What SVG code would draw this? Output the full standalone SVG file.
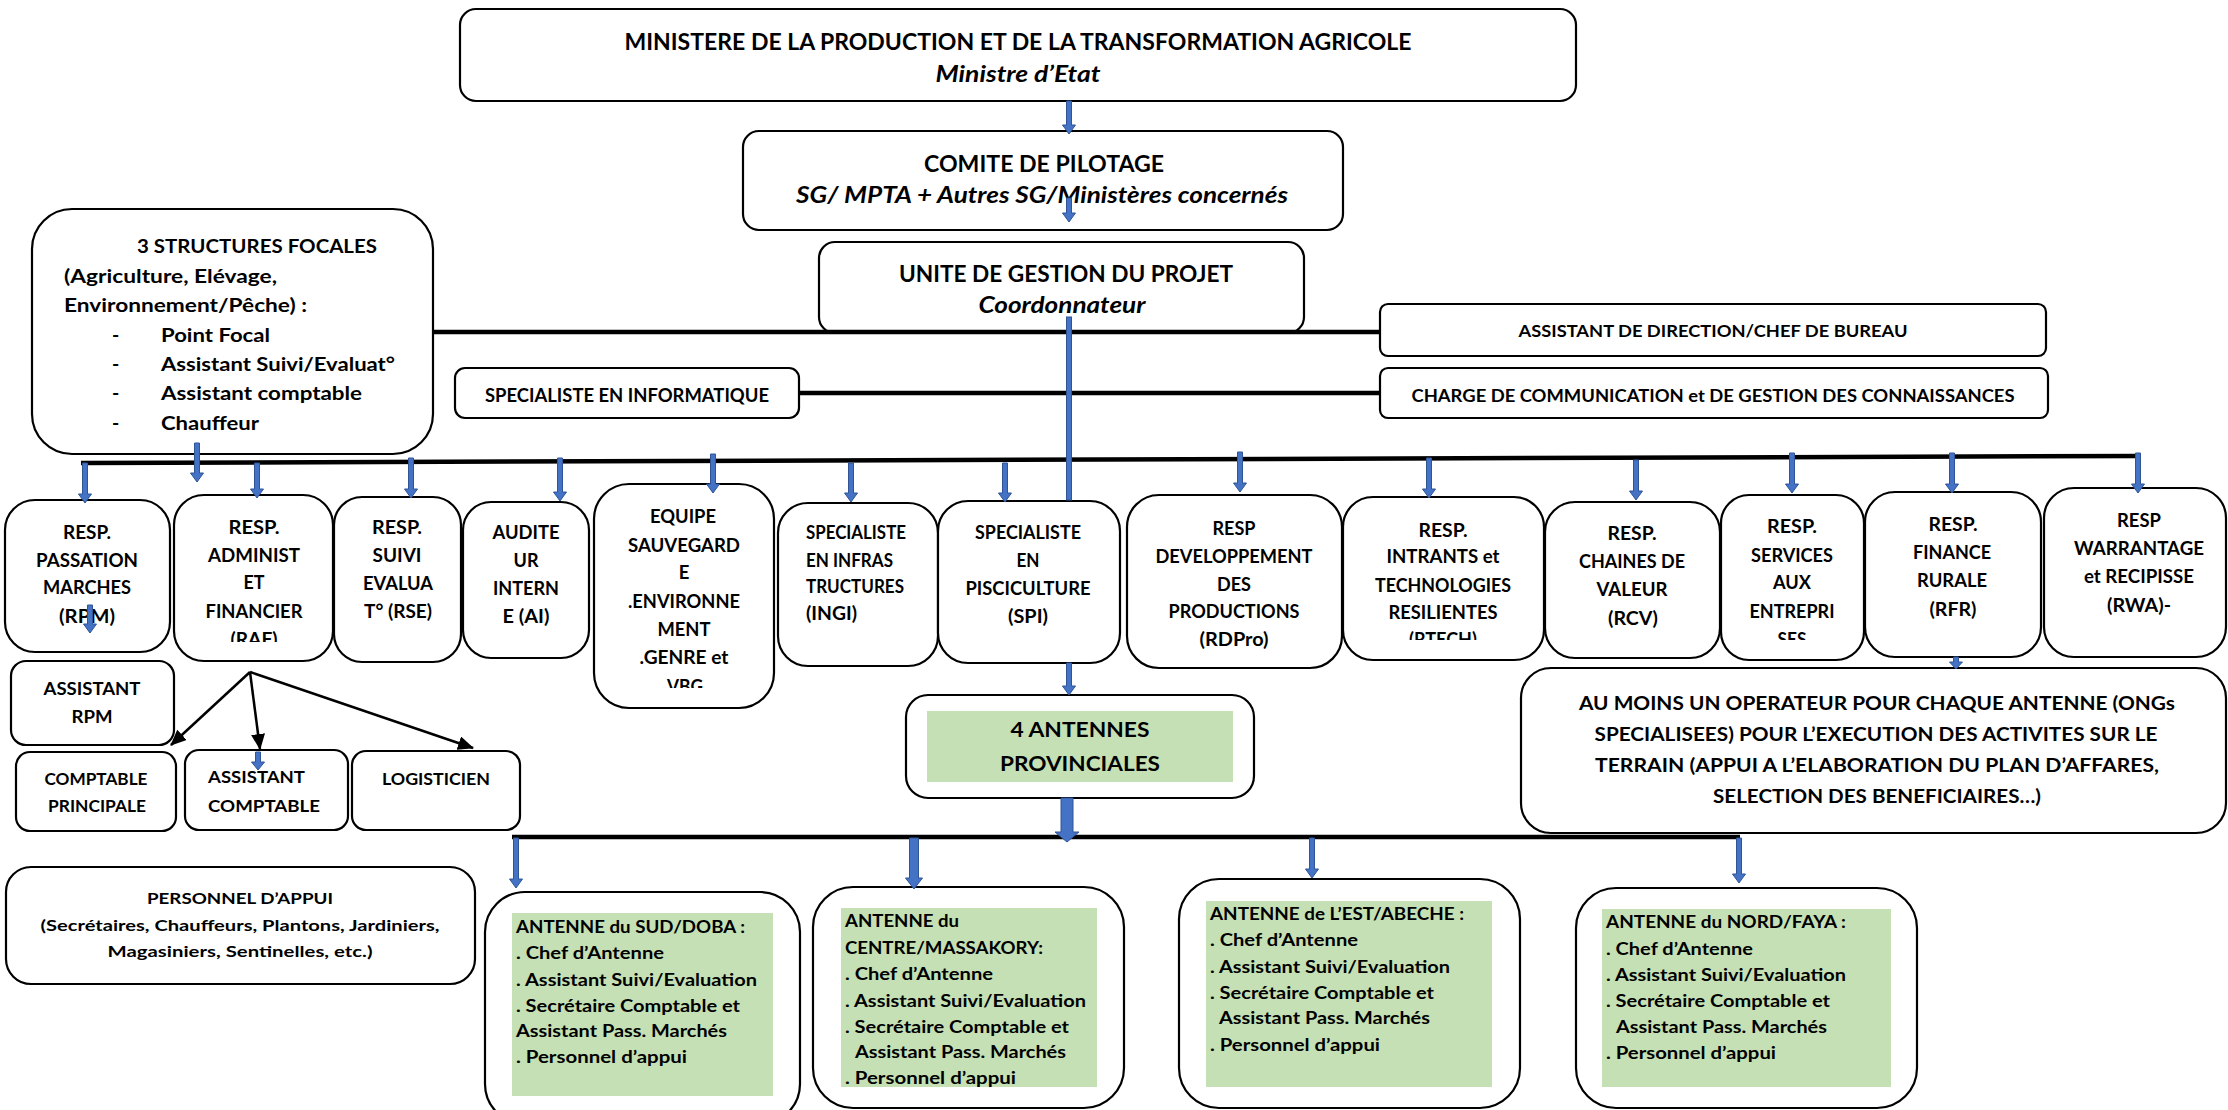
<svg xmlns="http://www.w3.org/2000/svg" width="2228" height="1110" viewBox="0 0 2228 1110">
<style>
.bx{fill:#fff;stroke:#000;stroke-width:2.2}
.gr{fill:#C5E0B4}
.t{font-family:Lato,"Liberation Sans",sans-serif;font-weight:bold;fill:#000}
.m{text-anchor:middle}
.i{font-style:italic}
.f22{font-size:22px}.f21{font-size:21px}.f195{font-size:19.5px}.f185{font-size:18.5px}.f17{font-size:17px}.f165{font-size:16.5px}.f16{font-size:16px}.f175{font-size:17.5px}
.ln{stroke:#000;stroke-width:4.5;fill:none}
.bl{fill:#4472C4;stroke:#2F5597;stroke-width:1}
.ka{stroke:#000;stroke-width:2.5;fill:none;marker-end:url(#ah)}
</style>
<defs>
<marker id="ah" viewBox="0 0 16 14" refX="15" refY="7" markerWidth="16" markerHeight="14" markerUnits="userSpaceOnUse" orient="auto"><path d="M0,0 L16,7 L0,14 z" fill="#000"/></marker>
<clipPath id="cRAF"><rect x="174" y="495" width="159" height="147"/></clipPath>
<clipPath id="cEQ"><rect x="594" y="484" width="180" height="204"/></clipPath>
<clipPath id="cRT"><rect x="1343" y="497" width="201" height="143"/></clipPath>
<clipPath id="cSE"><rect x="1721" y="495" width="143" height="145"/></clipPath>
</defs>

<g id="ministere">
<rect class="bx" x="460" y="9" width="1116" height="92" rx="16"/>
<text class="t m f22" x="1018" y="50" textLength="787" lengthAdjust="spacingAndGlyphs">MINISTERE DE LA PRODUCTION ET DE LA TRANSFORMATION AGRICOLE</text>
<text class="t m i f22" x="1018" y="82" textLength="165" lengthAdjust="spacingAndGlyphs">Ministre d’Etat</text>
</g>

<g id="comite">
<rect class="bx" x="743" y="131" width="600" height="99" rx="16"/>
<text class="t m f22" x="1044" y="172" textLength="240" lengthAdjust="spacingAndGlyphs">COMITE DE PILOTAGE</text>
<text class="t m i f22" x="1042" y="203" textLength="492" lengthAdjust="spacingAndGlyphs">SG/ MPTA + Autres SG/Ministères concernés</text>
</g>

<g id="ugp">
<rect class="bx" x="819" y="242" width="485" height="91" rx="16"/>
<text class="t m f22" x="1066" y="282" textLength="334" lengthAdjust="spacingAndGlyphs">UNITE DE GESTION DU PROJET</text>
<text class="t m i f22" x="1062" y="313" textLength="167" lengthAdjust="spacingAndGlyphs">Coordonnateur</text>
</g>

<g id="structures-focales">
<rect class="bx" x="32" y="209" width="401" height="245" rx="40"/>
<text class="t f195" x="137" y="253" textLength="240" lengthAdjust="spacingAndGlyphs">3 STRUCTURES FOCALES</text>
<text class="t f195" x="64" y="283" textLength="213" lengthAdjust="spacingAndGlyphs">(Agriculture, Elévage,</text>
<text class="t f195" x="64" y="312" textLength="243" lengthAdjust="spacingAndGlyphs">Environnement/Pêche) :</text>
<text class="t f195" x="112" y="342">-</text>
<text class="t f195" x="161" y="342" textLength="109" lengthAdjust="spacingAndGlyphs">Point Focal</text>
<text class="t f195" x="112" y="371">-</text>
<text class="t f195" x="161" y="371" textLength="234" lengthAdjust="spacingAndGlyphs">Assistant Suivi/Evaluat°</text>
<text class="t f195" x="112" y="400">-</text>
<text class="t f195" x="161" y="400" textLength="201" lengthAdjust="spacingAndGlyphs">Assistant comptable</text>
<text class="t f195" x="112" y="430">-</text>
<text class="t f195" x="161" y="430" textLength="98" lengthAdjust="spacingAndGlyphs">Chauffeur</text>
</g>

<g id="specialiste-informatique">
<rect class="bx" x="455" y="368" width="344" height="50" rx="10"/>
<text class="t m f185" x="627" y="402" textLength="284" lengthAdjust="spacingAndGlyphs">SPECIALISTE EN INFORMATIQUE</text>
</g>

<g id="assistant-direction">
<rect class="bx" x="1380" y="304" width="666" height="52" rx="8"/>
<text class="t m f17" x="1713" y="337" textLength="389" lengthAdjust="spacingAndGlyphs">ASSISTANT DE DIRECTION/CHEF DE BUREAU</text>
</g>

<g id="charge-communication">
<rect class="bx" x="1380" y="368" width="668" height="50" rx="8"/>
<text class="t m f165" x="1713" y="402" textLength="603" lengthAdjust="spacingAndGlyphs">CHARGE DE COMMUNICATION et DE GESTION DES CONNAISSANCES</text>
</g>

<g id="rpm">
<rect class="bx" x="5" y="500" width="165" height="152" rx="30"/>
<text class="t m f185" x="87" y="539" textLength="48" lengthAdjust="spacingAndGlyphs">RESP.</text>
<text class="t m f185" x="87" y="567" textLength="102" lengthAdjust="spacingAndGlyphs">PASSATION</text>
<text class="t m f185" x="87" y="594" textLength="88" lengthAdjust="spacingAndGlyphs">MARCHES</text>
<text class="t m f185" x="87" y="623" textLength="56" lengthAdjust="spacingAndGlyphs">(RPM)</text>
</g>

<g id="raf">
<rect class="bx" x="174" y="495" width="159" height="166" rx="30"/>
<g clip-path="url(#cRAF)">
<text class="t m f185" x="254" y="534" textLength="51" lengthAdjust="spacingAndGlyphs">RESP.</text>
<text class="t m f185" x="254" y="562" textLength="92" lengthAdjust="spacingAndGlyphs">ADMINIST</text>
<text class="t m f185" x="254" y="589" textLength="21" lengthAdjust="spacingAndGlyphs">ET</text>
<text class="t m f185" x="254" y="618" textLength="97" lengthAdjust="spacingAndGlyphs">FINANCIER</text>
<text class="t m f185" x="254" y="646" textLength="47" lengthAdjust="spacingAndGlyphs">(RAF)</text>
</g>
</g>

<g id="rse">
<rect class="bx" x="334" y="497" width="127" height="165" rx="28"/>
<text class="t m f185" x="397" y="534" textLength="50" lengthAdjust="spacingAndGlyphs">RESP.</text>
<text class="t m f185" x="397" y="562" textLength="49" lengthAdjust="spacingAndGlyphs">SUIVI</text>
<text class="t m f185" x="398" y="590" textLength="70" lengthAdjust="spacingAndGlyphs">EVALUA</text>
<text class="t m f185" x="398" y="618" textLength="68" lengthAdjust="spacingAndGlyphs">T° (RSE)</text>
</g>

<g id="ai">
<rect class="bx" x="463" y="502" width="126" height="156" rx="28"/>
<text class="t m f185" x="526" y="539" textLength="67" lengthAdjust="spacingAndGlyphs">AUDITE</text>
<text class="t m f185" x="526" y="567" textLength="25" lengthAdjust="spacingAndGlyphs">UR</text>
<text class="t m f185" x="526" y="595" textLength="66" lengthAdjust="spacingAndGlyphs">INTERN</text>
<text class="t m f185" x="526" y="623" textLength="47" lengthAdjust="spacingAndGlyphs">E (AI)</text>
</g>

<g id="equipe-sauvegarde">
<rect class="bx" x="594" y="484" width="180" height="224" rx="35"/>
<g clip-path="url(#cEQ)">
<text class="t m f185" x="683" y="523" textLength="66" lengthAdjust="spacingAndGlyphs">EQUIPE</text>
<text class="t m f185" x="684" y="552" textLength="112" lengthAdjust="spacingAndGlyphs">SAUVEGARD</text>
<text class="t m f185" x="684" y="579">E</text>
<text class="t m f185" x="684" y="608" textLength="112" lengthAdjust="spacingAndGlyphs">.ENVIRONNE</text>
<text class="t m f185" x="684" y="636" textLength="53" lengthAdjust="spacingAndGlyphs">MENT</text>
<text class="t m f185" x="684" y="664" textLength="89" lengthAdjust="spacingAndGlyphs">.GENRE et</text>
<text class="t m f185" x="685" y="693" textLength="36" lengthAdjust="spacingAndGlyphs">VBG</text>
</g>
</g>

<g id="ingi">
<rect class="bx" x="778" y="503" width="160" height="163" rx="30"/>
<text class="t f185" x="806" y="539" textLength="100" lengthAdjust="spacingAndGlyphs">SPECIALISTE</text>
<text class="t f185" x="806" y="567" textLength="87" lengthAdjust="spacingAndGlyphs">EN INFRAS</text>
<text class="t f185" x="806" y="593" textLength="98" lengthAdjust="spacingAndGlyphs">TRUCTURES</text>
<text class="t f185" x="806" y="620" textLength="51" lengthAdjust="spacingAndGlyphs">(INGI)</text>
</g>

<g id="spi">
<rect class="bx" x="938" y="501" width="182" height="162" rx="30"/>
<text class="t m f185" x="1028" y="539" textLength="106" lengthAdjust="spacingAndGlyphs">SPECIALISTE</text>
<text class="t m f185" x="1028" y="567" textLength="23" lengthAdjust="spacingAndGlyphs">EN</text>
<text class="t m f185" x="1028" y="595" textLength="125" lengthAdjust="spacingAndGlyphs">PISCICULTURE</text>
<text class="t m f185" x="1028" y="623" textLength="40" lengthAdjust="spacingAndGlyphs">(SPI)</text>
</g>

<g id="rdpro">
<rect class="bx" x="1127" y="495" width="215" height="173" rx="32"/>
<text class="t m f185" x="1234" y="535" textLength="43" lengthAdjust="spacingAndGlyphs">RESP</text>
<text class="t m f185" x="1234" y="563" textLength="157" lengthAdjust="spacingAndGlyphs">DEVELOPPEMENT</text>
<text class="t m f185" x="1234" y="591" textLength="34" lengthAdjust="spacingAndGlyphs">DES</text>
<text class="t m f185" x="1234" y="618" textLength="131" lengthAdjust="spacingAndGlyphs">PRODUCTIONS</text>
<text class="t m f185" x="1234" y="646" textLength="69" lengthAdjust="spacingAndGlyphs">(RDPro)</text>
</g>

<g id="rtech">
<rect class="bx" x="1343" y="497" width="201" height="163" rx="30"/>
<g clip-path="url(#cRT)">
<text class="t m f185" x="1443" y="537" textLength="49" lengthAdjust="spacingAndGlyphs">RESP.</text>
<text class="t m f185" x="1443" y="563" textLength="113" lengthAdjust="spacingAndGlyphs">INTRANTS et</text>
<text class="t m f185" x="1443" y="592" textLength="136" lengthAdjust="spacingAndGlyphs">TECHNOLOGIES</text>
<text class="t m f185" x="1443" y="619" textLength="109" lengthAdjust="spacingAndGlyphs">RESILIENTES</text>
<text class="t m f185" x="1443" y="646" textLength="68" lengthAdjust="spacingAndGlyphs">(RTECH)</text>
</g>
</g>

<g id="rcv">
<rect class="bx" x="1545" y="502" width="175" height="156" rx="30"/>
<text class="t m f185" x="1632" y="540" textLength="49" lengthAdjust="spacingAndGlyphs">RESP.</text>
<text class="t m f185" x="1632" y="568" textLength="106" lengthAdjust="spacingAndGlyphs">CHAINES DE</text>
<text class="t m f185" x="1632" y="596" textLength="71" lengthAdjust="spacingAndGlyphs">VALEUR</text>
<text class="t m f185" x="1633" y="625" textLength="50" lengthAdjust="spacingAndGlyphs">(RCV)</text>
</g>

<g id="services-entreprises">
<rect class="bx" x="1721" y="495" width="143" height="165" rx="28"/>
<g clip-path="url(#cSE)">
<text class="t m f185" x="1792" y="533" textLength="50" lengthAdjust="spacingAndGlyphs">RESP.</text>
<text class="t m f185" x="1792" y="562" textLength="82" lengthAdjust="spacingAndGlyphs">SERVICES</text>
<text class="t m f185" x="1792" y="589" textLength="38" lengthAdjust="spacingAndGlyphs">AUX</text>
<text class="t m f185" x="1792" y="618" textLength="85" lengthAdjust="spacingAndGlyphs">ENTREPRI</text>
<text class="t m f185" x="1792" y="646" textLength="29" lengthAdjust="spacingAndGlyphs">SES</text>
</g>
</g>

<g id="rfr">
<rect class="bx" x="1865" y="492" width="176" height="165" rx="30"/>
<text class="t m f185" x="1953" y="531" textLength="49" lengthAdjust="spacingAndGlyphs">RESP.</text>
<text class="t m f185" x="1952" y="559" textLength="78" lengthAdjust="spacingAndGlyphs">FINANCE</text>
<text class="t m f185" x="1952" y="587" textLength="70" lengthAdjust="spacingAndGlyphs">RURALE</text>
<text class="t m f185" x="1953" y="616" textLength="47" lengthAdjust="spacingAndGlyphs">(RFR)</text>
</g>

<g id="rwa">
<rect class="bx" x="2044" y="488" width="182" height="169" rx="30"/>
<text class="t m f185" x="2139" y="527" textLength="44" lengthAdjust="spacingAndGlyphs">RESP</text>
<text class="t m f185" x="2139" y="555" textLength="130" lengthAdjust="spacingAndGlyphs">WARRANTAGE</text>
<text class="t m f185" x="2139" y="583" textLength="110" lengthAdjust="spacingAndGlyphs">et RECIPISSE</text>
<text class="t m f185" x="2139" y="612" textLength="64" lengthAdjust="spacingAndGlyphs">(RWA)-</text>
</g>

<g id="operateurs">
<rect class="bx" x="1521" y="668" width="705" height="165" rx="30"/>
<text class="t m f185" x="1877" y="710" textLength="596" lengthAdjust="spacingAndGlyphs">AU MOINS UN OPERATEUR POUR CHAQUE ANTENNE (ONGs</text>
<text class="t m f185" x="1876" y="741" textLength="563" lengthAdjust="spacingAndGlyphs">SPECIALISEES) POUR L’EXECUTION DES ACTIVITES SUR LE</text>
<text class="t m f185" x="1877" y="772" textLength="564" lengthAdjust="spacingAndGlyphs">TERRAIN (APPUI A L’ELABORATION DU PLAN D’AFFARES,</text>
<text class="t m f185" x="1877" y="803" textLength="328" lengthAdjust="spacingAndGlyphs">SELECTION DES BENEFICIAIRES…)</text>
</g>

<g id="assistant-rpm">
<rect class="bx" x="11" y="661" width="163" height="84" rx="15"/>
<text class="t m f165" x="92" y="695" textLength="97" lengthAdjust="spacingAndGlyphs">ASSISTANT</text>
<text class="t m f165" x="92" y="723" textLength="41" lengthAdjust="spacingAndGlyphs">RPM</text>
</g>

<g id="comptable-principale">
<rect class="bx" x="16" y="752" width="160" height="79" rx="14"/>
<text class="t m f175" x="96" y="785" textLength="103" lengthAdjust="spacingAndGlyphs">COMPTABLE</text>
<text class="t m f175" x="97" y="812" textLength="98" lengthAdjust="spacingAndGlyphs">PRINCIPALE</text>
</g>

<g id="assistant-comptable">
<rect class="bx" x="185" y="750" width="163" height="80" rx="14"/>
<text class="t f175" x="208" y="783" textLength="97" lengthAdjust="spacingAndGlyphs">ASSISTANT</text>
<text class="t f175" x="208" y="812" textLength="112" lengthAdjust="spacingAndGlyphs">COMPTABLE</text>
</g>

<g id="logisticien">
<rect class="bx" x="352" y="751" width="168" height="79" rx="14"/>
<text class="t m f175" x="436" y="785" textLength="108" lengthAdjust="spacingAndGlyphs">LOGISTICIEN</text>
</g>

<g id="personnel-appui">
<rect class="bx" x="6" y="867" width="469" height="117" rx="25"/>
<text class="t m f16" x="240" y="904" textLength="186" lengthAdjust="spacingAndGlyphs">PERSONNEL D’APPUI</text>
<text class="t m f16" x="240" y="931" textLength="399" lengthAdjust="spacingAndGlyphs">(Secrétaires, Chauffeurs, Plantons, Jardiniers,</text>
<text class="t m f16" x="240" y="957" textLength="265" lengthAdjust="spacingAndGlyphs">Magasiniers, Sentinelles, etc.)</text>
</g>

<g id="antennes-provinciales">
<rect class="bx" x="906" y="695" width="348" height="103" rx="22"/>
<rect class="gr" x="927" y="711" width="306" height="71"/>
<text class="t m f21" x="1080" y="737" textLength="139" lengthAdjust="spacingAndGlyphs">4 ANTENNES</text>
<text class="t m f21" x="1080" y="771" textLength="160" lengthAdjust="spacingAndGlyphs">PROVINCIALES</text>
</g>

<g id="antenne-sud">
<rect class="bx" x="485" y="892" width="315" height="232" rx="40"/>
<rect class="gr" x="512" y="913" width="261" height="183"/>
<text class="t f165" x="516" y="933" textLength="229" lengthAdjust="spacingAndGlyphs">ANTENNE du SUD/DOBA :</text>
<text class="t f165" x="516" y="959" textLength="148" lengthAdjust="spacingAndGlyphs">. Chef d’Antenne</text>
<text class="t f165" x="516" y="986" textLength="241" lengthAdjust="spacingAndGlyphs">. Assistant Suivi/Evaluation</text>
<text class="t f165" x="516" y="1012" textLength="224" lengthAdjust="spacingAndGlyphs">. Secrétaire Comptable et</text>
<text class="t f165" x="516" y="1037" textLength="211" lengthAdjust="spacingAndGlyphs">Assistant Pass. Marchés</text>
<text class="t f165" x="516" y="1063" textLength="171" lengthAdjust="spacingAndGlyphs">. Personnel d’appui</text>
</g>

<g id="antenne-centre">
<rect class="bx" x="813" y="887" width="311" height="221" rx="40"/>
<rect class="gr" x="841" y="908" width="256" height="179"/>
<text class="t f165" x="845" y="927" textLength="114" lengthAdjust="spacingAndGlyphs">ANTENNE du</text>
<text class="t f165" x="845" y="954" textLength="198" lengthAdjust="spacingAndGlyphs">CENTRE/MASSAKORY:</text>
<text class="t f165" x="845" y="980" textLength="148" lengthAdjust="spacingAndGlyphs">. Chef d’Antenne</text>
<text class="t f165" x="845" y="1007" textLength="241" lengthAdjust="spacingAndGlyphs">. Assistant Suivi/Evaluation</text>
<text class="t f165" x="845" y="1033" textLength="224" lengthAdjust="spacingAndGlyphs">. Secrétaire Comptable et</text>
<text class="t f165" x="855" y="1058" textLength="211" lengthAdjust="spacingAndGlyphs">Assistant Pass. Marchés</text>
<text class="t f165" x="845" y="1084" textLength="171" lengthAdjust="spacingAndGlyphs">. Personnel d’appui</text>
</g>

<g id="antenne-est">
<rect class="bx" x="1179" y="879" width="341" height="229" rx="40"/>
<rect class="gr" x="1206" y="901" width="286" height="186"/>
<text class="t f165" x="1210" y="920" textLength="254" lengthAdjust="spacingAndGlyphs">ANTENNE de L’EST/ABECHE :</text>
<text class="t f165" x="1210" y="946" textLength="148" lengthAdjust="spacingAndGlyphs">. Chef d’Antenne</text>
<text class="t f165" x="1210" y="973" textLength="240" lengthAdjust="spacingAndGlyphs">. Assistant Suivi/Evaluation</text>
<text class="t f165" x="1210" y="999" textLength="224" lengthAdjust="spacingAndGlyphs">. Secrétaire Comptable et</text>
<text class="t f165" x="1219" y="1024" textLength="211" lengthAdjust="spacingAndGlyphs">Assistant Pass. Marchés</text>
<text class="t f165" x="1210" y="1051" textLength="170" lengthAdjust="spacingAndGlyphs">. Personnel d’appui</text>
</g>

<g id="antenne-nord">
<rect class="bx" x="1576" y="888" width="341" height="220" rx="40"/>
<rect class="gr" x="1602" y="909" width="289" height="178"/>
<text class="t f165" x="1606" y="928" textLength="240" lengthAdjust="spacingAndGlyphs">ANTENNE du NORD/FAYA :</text>
<text class="t f165" x="1606" y="955" textLength="147" lengthAdjust="spacingAndGlyphs">. Chef d’Antenne</text>
<text class="t f165" x="1606" y="981" textLength="240" lengthAdjust="spacingAndGlyphs">. Assistant Suivi/Evaluation</text>
<text class="t f165" x="1606" y="1007" textLength="224" lengthAdjust="spacingAndGlyphs">. Secrétaire Comptable et</text>
<text class="t f165" x="1616" y="1033" textLength="211" lengthAdjust="spacingAndGlyphs">Assistant Pass. Marchés</text>
<text class="t f165" x="1606" y="1059" textLength="170" lengthAdjust="spacingAndGlyphs">. Personnel d’appui</text>
</g>

<g id="connectors">
<line class="ln" x1="433" y1="332" x2="1380" y2="332"/>
<line class="ln" x1="799" y1="393" x2="1380" y2="393"/>
<line class="ln" x1="81" y1="463" x2="2140" y2="456"/>
<line class="ln" x1="512" y1="837" x2="1740" y2="837"/>
<line class="ka" x1="250" y1="672" x2="171" y2="745"/>
<line class="ka" x1="250" y1="672" x2="260" y2="749"/>
<line class="ka" x1="250" y1="672" x2="473" y2="748"/>
<rect class="bl" x="1066.5" y="317" width="5" height="183"/>
<polygon class="bl" points="1066.5,101 1071.5,101 1071.5,125 1075.5,125 1069,134 1062.5,125 1066.5,125"/>
<polygon class="bl" points="1066.5,198 1071.5,198 1071.5,213 1075.5,213 1069,222 1062.5,213 1066.5,213"/>
<polygon class="bl" points="1066.5,663 1071.5,663 1071.5,686 1075.5,686 1069,695 1062.5,686 1066.5,686"/>
<polygon class="bl" points="194.5,443 199.5,443 199.5,473 203.5,473 197,482 190.5,473 194.5,473"/>
<polygon class="bl" points="82.5,463 87.5,463 87.5,494 91.5,494 85,503 78.5,494 82.5,494"/>
<polygon class="bl" points="254.5,463 259.5,463 259.5,489 263.5,489 257,498 250.5,489 254.5,489"/>
<polygon class="bl" points="408.5,458 413.5,458 413.5,489 417.5,489 411,498 404.5,489 408.5,489"/>
<polygon class="bl" points="557.5,458 562.5,458 562.5,492 566.5,492 560,501 553.5,492 557.5,492"/>
<polygon class="bl" points="710.5,454 715.5,454 715.5,484 719.5,484 713,493 706.5,484 710.5,484"/>
<polygon class="bl" points="848.5,463 853.5,463 853.5,493 857.5,493 851,502 844.5,493 848.5,493"/>
<polygon class="bl" points="1002.5,463 1007.5,463 1007.5,493 1011.5,493 1005,502 998.5,493 1002.5,493"/>
<polygon class="bl" points="1237.5,452 1242.5,452 1242.5,483 1246.5,483 1240,492 1233.5,483 1237.5,483"/>
<polygon class="bl" points="1426.5,458 1431.5,458 1431.5,489 1435.5,489 1429,498 1422.5,489 1426.5,489"/>
<polygon class="bl" points="1633.5,460 1638.5,460 1638.5,491 1642.5,491 1636,500 1629.5,491 1633.5,491"/>
<polygon class="bl" points="1789.5,453 1794.5,453 1794.5,484 1798.5,484 1792,493 1785.5,484 1789.5,484"/>
<polygon class="bl" points="1949.5,453 1954.5,453 1954.5,484 1958.5,484 1952,493 1945.5,484 1949.5,484"/>
<polygon class="bl" points="2135.5,453 2140.5,453 2140.5,484 2144.5,484 2138,493 2131.5,484 2135.5,484"/>
<polygon class="bl" points="87.5,605 92.5,605 92.5,624 96.5,624 90,633 83.5,624 87.5,624"/>
<polygon class="bl" points="1953.5,657 1958.5,657 1958.5,662 1962.5,662 1956,669 1949.5,662 1953.5,662"/>
<polygon class="bl" points="255.5,752 260.5,752 260.5,762 264.5,762 258,770 251.5,762 255.5,762"/>
<polygon class="bl" points="1061,798 1073,798 1073,832 1079,832 1067,842 1055,832 1061,832"/>
<polygon class="bl" points="513.5,838 518.5,838 518.5,879 522.5,879 516,888 509.5,879 513.5,879"/>
<polygon class="bl" points="909.5,838 918.5,838 918.5,878 922.5,878 914,889 905.5,878 909.5,878"/>
<polygon class="bl" points="1309.5,838 1314.5,838 1314.5,869 1318.5,869 1312,878 1305.5,869 1309.5,869"/>
<polygon class="bl" points="1736.5,838 1741.5,838 1741.5,874 1745.5,874 1739,883 1732.5,874 1736.5,874"/>
</g>
</svg>
